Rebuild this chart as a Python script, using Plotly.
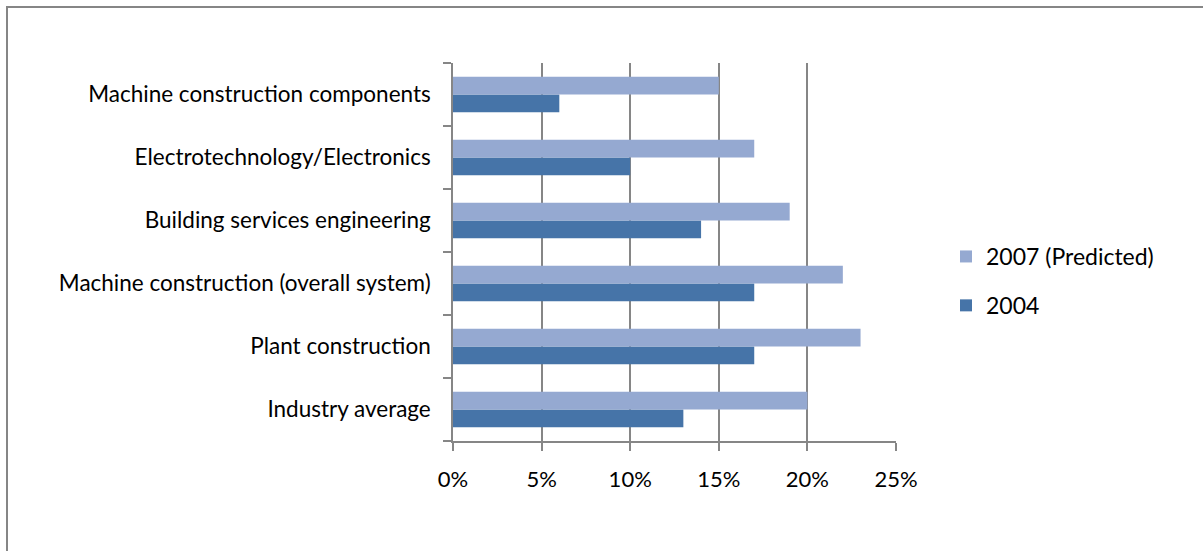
import plotly.graph_objects as go

categories = [
    "Industry average",
    "Plant construction",
    "Machine construction (overall system)",
    "Building services engineering",
    "Electrotechnology/Electronics",
    "Machine construction components",
]
values_2004 = [13, 17, 17, 14, 10, 6]
values_2007 = [20, 23, 22, 19, 17, 15]
x_ticks = [0, 5, 10, 15, 20, 25]
x_tick_labels = ["0%", "5%", "10%", "15%", "20%", "25%"]

W, H = 1203, 551
L, R, T, B = 453, 896, 63, 441
FONT = "Lato"
GRID = "#868686"

fig = go.Figure()
fig.add_trace(go.Bar(
    y=categories, x=values_2004, orientation="h", name="2004",
    marker=dict(color="#4674A8", line=dict(width=0)),
    legendgroup="a", legendrank=2,
))
fig.add_trace(go.Bar(
    y=categories, x=values_2007, orientation="h", name="2007 (Predicted)",
    marker=dict(color="#95A9D1", line=dict(width=0)),
    legendgroup="b", legendrank=1,
))

pw, ph = R - L, B - T
def px_x(x):
    return (x - L) / pw
def px_y(y):
    return (B - y) / ph

fig.update_layout(
    width=W, height=H,
    margin=dict(l=L, r=W - R, t=T, b=H - B, pad=0),
    paper_bgcolor="white", plot_bgcolor="white",
    barmode="group", bargap=0.44, bargroupgap=0,
    font=dict(family=FONT, size=22, color="#000000"),
    showlegend=True,
    legend=dict(
        x=px_x(946), y=px_y(281), xanchor="left", yanchor="middle",
        traceorder="grouped", tracegroupgap=16,
        font=dict(family=FONT, size=23, color="#000000"),
        itemwidth=30, bgcolor="rgba(0,0,0,0)",
    ),
    xaxis=dict(
        range=[0, 25], tickvals=x_ticks, ticktext=x_tick_labels,
        showgrid=True, gridcolor=GRID, gridwidth=1.5,
        showline=True, linecolor=GRID, linewidth=1.5,
        ticks="outside", ticklen=8, tickcolor=GRID, tickwidth=1.5,
        tickfont=dict(family=FONT, size=22, color="#000000"),
        zeroline=False, fixedrange=True, ticklabelstandoff=10,
    ),
    yaxis=dict(
        type="category", categoryorder="array", categoryarray=categories,
        showgrid=False, showline=True, linecolor=GRID, linewidth=1.5,
        ticks="outside", ticklen=8, tickcolor=GRID, tickwidth=1.5,
        tickson="boundaries",
        tickfont=dict(family=FONT, size=22.5, color="#000000"),
        zeroline=False, fixedrange=True, ticklabelstandoff=16,
    ),
    shapes=[dict(
        type="rect", xref="paper", yref="paper",
        x0=px_x(7), x1=px_x(1215), y0=px_y(565), y1=px_y(7),
        line=dict(color=GRID, width=2), fillcolor="rgba(0,0,0,0)", layer="above",
    )],
)

fig.write_html("out.html")
